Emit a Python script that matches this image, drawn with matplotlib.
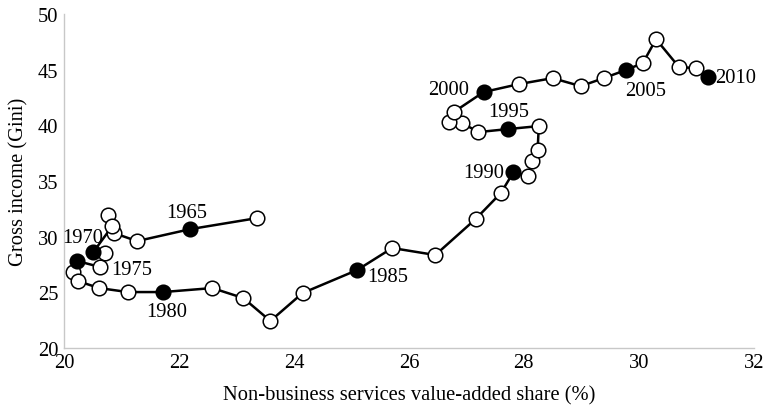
import matplotlib
matplotlib.use('Agg')
import matplotlib.pyplot as plt

plt.rcParams['font.family'] = ['Liberation Serif', 'DejaVu Serif']

# path of the series
share = [23.36, 22.20, 21.27, 20.87, 20.77, 20.84, 20.51, 20.71, 20.63, 20.23,
         20.16, 20.24, 20.61, 21.11, 21.72, 22.58, 23.12, 23.59, 24.15, 25.10,
         25.71, 26.46, 27.16, 27.60, 27.82, 28.08, 28.14, 28.24, 28.26, 27.72,
         27.21, 26.93, 26.69, 26.78, 27.30, 27.91, 28.50, 28.99, 29.39, 29.77,
         30.07, 30.30, 30.70, 30.99, 31.20]
gini = [31.67, 30.68, 29.60, 30.32, 31.94, 30.95, 28.62, 28.53, 27.27, 27.81,
        26.82, 26.01, 25.38, 25.02, 25.02, 25.38, 24.48, 22.42, 24.93, 27.00,
        28.98, 28.35, 31.58, 33.92, 35.80, 35.44, 36.80, 37.78, 39.94, 39.67,
        39.40, 40.20, 40.30, 41.20, 43.00, 43.71, 44.25, 43.53, 44.25, 44.97,
        45.60, 47.75, 45.24, 45.15, 44.34]
filled = [0, 1, 0, 0, 0, 0, 1, 0, 0, 1,
          0, 0, 0, 0, 1, 0, 0, 0, 0, 1,
          0, 0, 0, 0, 1, 0, 0, 0, 0, 1,
          0, 0, 0, 0, 1, 0, 0, 0, 0, 1,
          0, 0, 0, 0, 1]

labels = ['1965', '1970', '1975', '1980', '1985', '1990', '1995', '2000', '2005', '2010']
label_x = [22.13, 20.33, 21.18, 21.79, 25.63, 27.30, 27.73, 26.69, 30.12, 31.69]
label_y = [32.2, 29.96, 27.09, 23.3, 26.46, 35.8, 41.28, 43.2, 43.17, 44.34]

fig = plt.figure(figsize=(7.66, 4.10), dpi=100)
ax = fig.add_axes([0.0836, 0.149, 0.9004, 0.814])

ax.plot(share, gini, color='black', lw=1.8, zorder=1)
open_x = [x for x, f in zip(share, filled) if not f]
open_y = [y for y, f in zip(gini, filled) if not f]
full_x = [x for x, f in zip(share, filled) if f]
full_y = [y for y, f in zip(gini, filled) if f]
ax.plot(open_x, open_y, 'o', ms=10.5, mfc='white', mec='black', mew=1.1, zorder=2)
ax.plot(full_x, full_y, 'o', ms=10.5, mfc='black', mec='black', mew=1.1, zorder=3)

for t, lx, ly in zip(labels, label_x, label_y):
    ax.text(lx, ly, t, ha='center', va='center', fontsize=14.8)

ax.set_xlim(20, 32)
ax.set_ylim(20, 50)
ax.set_xticks(range(20, 33, 2))
ax.set_yticks(range(20, 51, 5))
ax.tick_params(length=0, labelsize=14.8, pad=4)
for s in ['top', 'right']:
    ax.spines[s].set_visible(False)
for s in ['left', 'bottom']:
    ax.spines[s].set_color('#c8c8c8')
    ax.spines[s].set_linewidth(1.0)

ax.set_xlabel('Non-business services value-added share (%)', fontsize=14.8, labelpad=9)
ax.set_ylabel('Gross income (Gini)', fontsize=14.8, labelpad=7)

fig.savefig('out.png', dpi=100)
